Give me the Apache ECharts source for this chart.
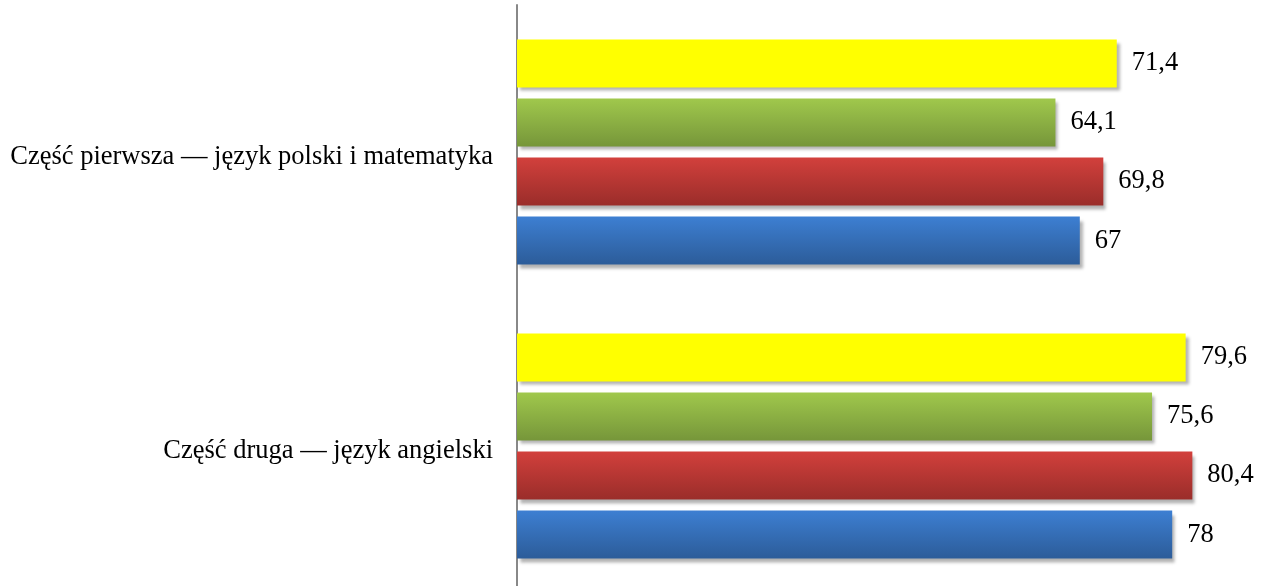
<!DOCTYPE html>
<html><head><meta charset="utf-8">
<script src="https://cdn.jsdelivr.net/npm/echarts@6/dist/echarts.min.js"></script>
<style>html,body{margin:0;padding:0;background:#fff;overflow:hidden}#c{width:1276px;height:593px}</style>
</head><body><div id="c"></div>
<script>
const categories = ['Część pierwsza — język polski i matematyka', 'Część druga — język angielski'];
const seriesYellow = [71.4, 79.6];
const seriesGreen = [64.1, 75.6];
const seriesRed = [69.8, 80.4];
const seriesBlue = [67, 78];

function grad(top, bottom) {
  return new echarts.graphic.LinearGradient(0, 0, 0, 1, [
    {offset: 0, color: top}, {offset: 1, color: bottom}
  ]);
}
const font = '"Liberation Serif", "Times New Roman", serif';
function mk(name, data, color) {
  return {
    name: name, type: 'bar', data: data, barWidth: 48, barGap: '23%',
    itemStyle: {color: color, shadowColor: 'rgba(0,0,0,0.3)', shadowBlur: 3, shadowOffsetX: 3, shadowOffsetY: 4},
    label: {show: true, position: 'right', distance: 15, fontFamily: font, fontSize: 26.5, color: '#000',
      formatter: p => String(p.value).replace('.', ',')},
    animation: false
  };
}
const chart = echarts.init(document.getElementById('c'));
chart.setOption({
  animation: false,
  grid: {left: 517, top: 5, width: 756, height: 588, containLabel: false},
  xAxis: {type: 'value', min: 0, max: 90, show: false},
  yAxis: {type: 'category', inverse: true, data: categories,
    axisLine: {show: true, lineStyle: {color: '#888', width: 2}},
    axisTick: {show: false},
    axisLabel: {color: '#000', margin: 24,
      formatter: v => '{a|' + v + '}',
      rich: {a: {fontFamily: font, fontSize: 26.5, color: '#000', padding: [10, 0, 0, 0]}}}},
  series: [
    mk('Y', seriesYellow, '#FFFF00'),
    mk('G', seriesGreen, grad('#A0C84C', '#76963A')),
    mk('R', seriesRed, grad('#D2403C', '#9A2D2A')),
    mk('B', seriesBlue, grad('#3D7FD2', '#2C5C99'))
  ]
});
</script></body></html>
